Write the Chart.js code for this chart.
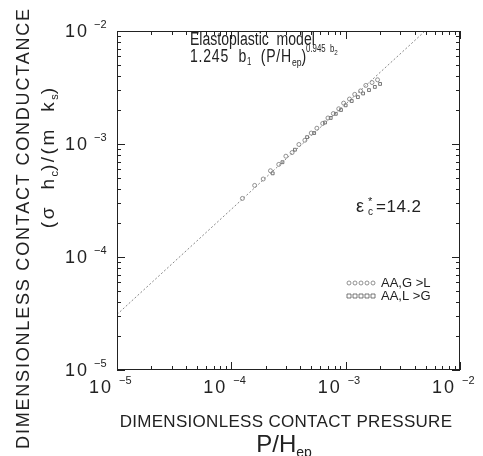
<!DOCTYPE html>
<html>
<head>
<meta charset="utf-8">
<script src="https://cdn.jsdelivr.net/npm/chart.js@4.4.1/dist/chart.umd.min.js"></script>
<style>
  html, body { margin:0; padding:0; background:#fff; }
  #wrap { width:483px; height:456px; }
</style>
</head>
<body>
<div id="wrap"><canvas id="chart" width="483" height="456"></canvas></div>
<script>
// ---- data ----
const decadeTicks = [1e-5, 1e-4, 1e-3, 1e-2];
const tickExps    = ["\u22125", "\u22124", "\u22123", "\u22122"];

// AA, G>L  (circles)
const glX = [1.25e-4, 1.6e-4, 1.9e-4, 2.2e-4, 2.6e-4, 3.0e-4, 3.4e-4, 3.9e-4, 4.4e-4, 5.0e-4, 5.6e-4,
             6.3e-4, 7.0e-4, 7.8e-4, 8.7e-4, 9.6e-4, 1.08e-3, 1.2e-3, 1.35e-3, 1.5e-3, 1.7e-3, 1.9e-3];
const glY = [3.3e-4, 4.3e-4, 4.9e-4, 5.8e-4, 6.6e-4, 7.8e-4, 8.4e-4, 9.9e-4, 1.08e-3, 1.25e-3, 1.38e-3,
             1.52e-3, 1.7e-3, 1.86e-3, 2.05e-3, 2.3e-3, 2.5e-3, 2.75e-3, 2.95e-3, 3.3e-3, 3.5e-3, 3.7e-3];
// AA, L>G  (squares)
const lgX = [2.3e-4, 2.8e-4, 3.6e-4, 4.6e-4, 5.3e-4, 6.6e-4, 7.4e-4, 8.2e-4, 9.1e-4, 1.0e-3,
             1.13e-3, 1.28e-3, 1.42e-3, 1.6e-3, 1.8e-3, 2.0e-3];
const lgY = [5.5e-4, 6.9e-4, 8.9e-4, 1.15e-3, 1.25e-3, 1.55e-3, 1.7e-3, 1.85e-3, 2.0e-3, 2.2e-3,
             2.4e-3, 2.6e-3, 2.8e-3, 3.0e-3, 3.2e-3, 3.4e-3];
// elastoplastic model line (end points)
const modelX = [1e-5, 4.95e-3];
const modelY = [3.1e-5, 1e-2];

const pts = (xs, ys) => xs.map((x, i) => ({ x, y: ys[i] }));
const INK = "#222";
const FONT = "'Liberation Sans', Arial, sans-serif";

// draw a run of text pieces (normal / sub / sup) starting at x, baseline y
function rich(ctx, parts, x, y, align) {
  let w = 0;
  parts.forEach(p => { ctx.font = p.s + "px " + FONT; ctx.letterSpacing = (p.ls || 0) + "px"; w += ctx.measureText(p.t).width; });
  let cx = align === "center" ? x - w / 2 : align === "right" ? x - w : x;
  ctx.textAlign = "left";
  ctx.textBaseline = "alphabetic";
  parts.forEach(p => {
    ctx.font = p.s + "px " + FONT;
    ctx.letterSpacing = (p.ls || 0) + "px";
    ctx.fillText(p.t, cx, y + (p.dy || 0));
    cx += ctx.measureText(p.t).width;
  });
  ctx.letterSpacing = "0px";
}

const decor = {
  id: "decor",
  afterDraw(chart) {
    const ctx = chart.ctx, xs = chart.scales.x, ys = chart.scales.y;
    const { left, right, top, bottom } = chart.chartArea;
    ctx.save();
    ctx.strokeStyle = INK; ctx.fillStyle = INK; ctx.lineWidth = 1;
    ctx.strokeRect(left + 0.5, top + 0.5, right - left - 1, bottom - top - 1);

    // ticks, inward on all four sides
    ctx.beginPath();
    for (let d = -5; d <= -2; d++) {
      for (let m = 1; m <= (d === -2 ? 1 : 9); m++) {
        const v = m * Math.pow(10, d);
        const len = m === 1 ? 8 : 4;
        const px = Math.round(xs.getPixelForValue(v)) + 0.5;
        const py = Math.round(ys.getPixelForValue(v)) + 0.5;
        ctx.moveTo(px, bottom); ctx.lineTo(px, bottom - len);
        ctx.moveTo(px, top); ctx.lineTo(px, top + len);
        ctx.moveTo(left, py); ctx.lineTo(left + len, py);
        ctx.moveTo(right, py); ctx.lineTo(right - len, py);
      }
    }
    ctx.stroke();

    // tick labels 10^n
    decadeTicks.forEach((v, i) => {
      const py = ys.getPixelForValue(v);
      rich(ctx, [{ t: "10", s: 18, ls: 2 }], 89, py + 6, "right");
      rich(ctx, [{ t: tickExps[i], s: 11 }], 94, py - 3, "left");
      const px = xs.getPixelForValue(v);
      rich(ctx, [{ t: "10", s: 18, ls: 2 }], px - 4, 393, "right");
      rich(ctx, [{ t: tickExps[i], s: 11 }], px + 2, 384, "left");
    });

    // axis titles
    rich(ctx, [{ t: "DIMENSIONLESS CONTACT PRESSURE", s: 17, ls: 0.3 }], 286, 427, "center");
    rich(ctx, [{ t: "P/H", s: 24 }, { t: "ep", s: 14, dy: 5 }], 284, 452, "center");

    ctx.save();
    ctx.translate(29, 228); ctx.rotate(-Math.PI / 2);
    rich(ctx, [{ t: "DIMENSIONLESS CONTACT CONDUCTANCE", s: 18, ls: 1.8 }], 0, 0, "center");
    ctx.restore();
    ctx.save();
    ctx.translate(54, 158); ctx.rotate(-Math.PI / 2);
    rich(ctx, [{ t: "(\u03c3  h", s: 19, ls: 2.5 }, { t: "c", s: 11, dy: 4 }, { t: ")/(m  k", s: 19, ls: 2.5 },
               { t: "s", s: 11, dy: 4 }, { t: ")", s: 19 }], 0, 0, "center");
    ctx.restore();

    // annotations
    ctx.save();
    ctx.translate(190, 45); ctx.scale(0.78, 1);
    rich(ctx, [{ t: "Elastoplastic  model", s: 18 }], 0, 0, "left");
    rich(ctx, [{ t: "1.245  b", s: 18, ls: 1 }, { t: "1", s: 10, dy: 3 }, { t: "  (P/H", s: 18, ls: 1 },
               { t: "ep", s: 11, dy: 4 }, { t: ")", s: 18 }, { t: "0.945  b", s: 10, dy: -10 },
               { t: "2", s: 8, dy: -7 }], 0, 17, "left");
    ctx.restore();

    rich(ctx, [{ t: "\u03b5", s: 18 }], 356, 212, "left");
    rich(ctx, [{ t: "*", s: 11 }], 368, 205, "left");
    rich(ctx, [{ t: "c", s: 10 }], 368, 215, "left");
    rich(ctx, [{ t: "=14.2", s: 17, ls: 0.5 }], 376, 212, "left");

    // legend
    const dsG = chart.data.datasets[1], dsL = chart.data.datasets[2];
    [[dsG, 287, "AA,G >L"], [dsL, 300, "AA,L >G"]].forEach(([ds, y, txt]) => {
      ctx.strokeStyle = ds.borderColor; ctx.lineWidth = 0.8;
      for (let k = 0; k < 5; k++) {
        const cx = 349 + k * 6, cy = y - 4;
        ctx.beginPath();
        if (ds.pointStyle === "circle") ctx.arc(cx, cy, 2, 0, Math.PI * 2);
        else ctx.rect(cx - 2, cy - 2, 4, 4);
        ctx.stroke();
      }
      ctx.fillStyle = INK;
      rich(ctx, [{ t: txt, s: 13 }], 381, y, "left");
    });
    ctx.restore();
  }
};

new Chart(document.getElementById("chart"), {
  type: "scatter",
  data: {
    datasets: [
      { label: "Elastoplastic model", data: pts(modelX, modelY), showLine: true,
        borderColor: "#888", borderWidth: 1, borderDash: [2, 2], pointRadius: 0 },
      { label: "AA,G>L", data: pts(glX, glY), pointStyle: "circle", pointRadius: 2,
        borderColor: "#777", backgroundColor: "rgba(0,0,0,0)", borderWidth: 0.8 },
      { label: "AA,L>G", data: pts(lgX, lgY), pointStyle: "rect", pointRadius: 2,
        borderColor: "#555", backgroundColor: "rgba(0,0,0,0)", borderWidth: 0.8 }
    ]
  },
  options: {
    responsive: false,
    animation: false,
    layout: { padding: { left: 117, right: 23, top: 31, bottom: 86 } },
    plugins: { legend: { display: false }, tooltip: { enabled: false } },
    scales: {
      x: { type: "logarithmic", min: 1e-5, max: 1e-2,
           ticks: { display: false }, grid: { display: false, drawTicks: false }, border: { display: false } },
      y: { type: "logarithmic", min: 1e-5, max: 1e-2,
           ticks: { display: false }, grid: { display: false, drawTicks: false }, border: { display: false } }
    }
  },
  plugins: [decor]
});
</script>
</body>
</html>
